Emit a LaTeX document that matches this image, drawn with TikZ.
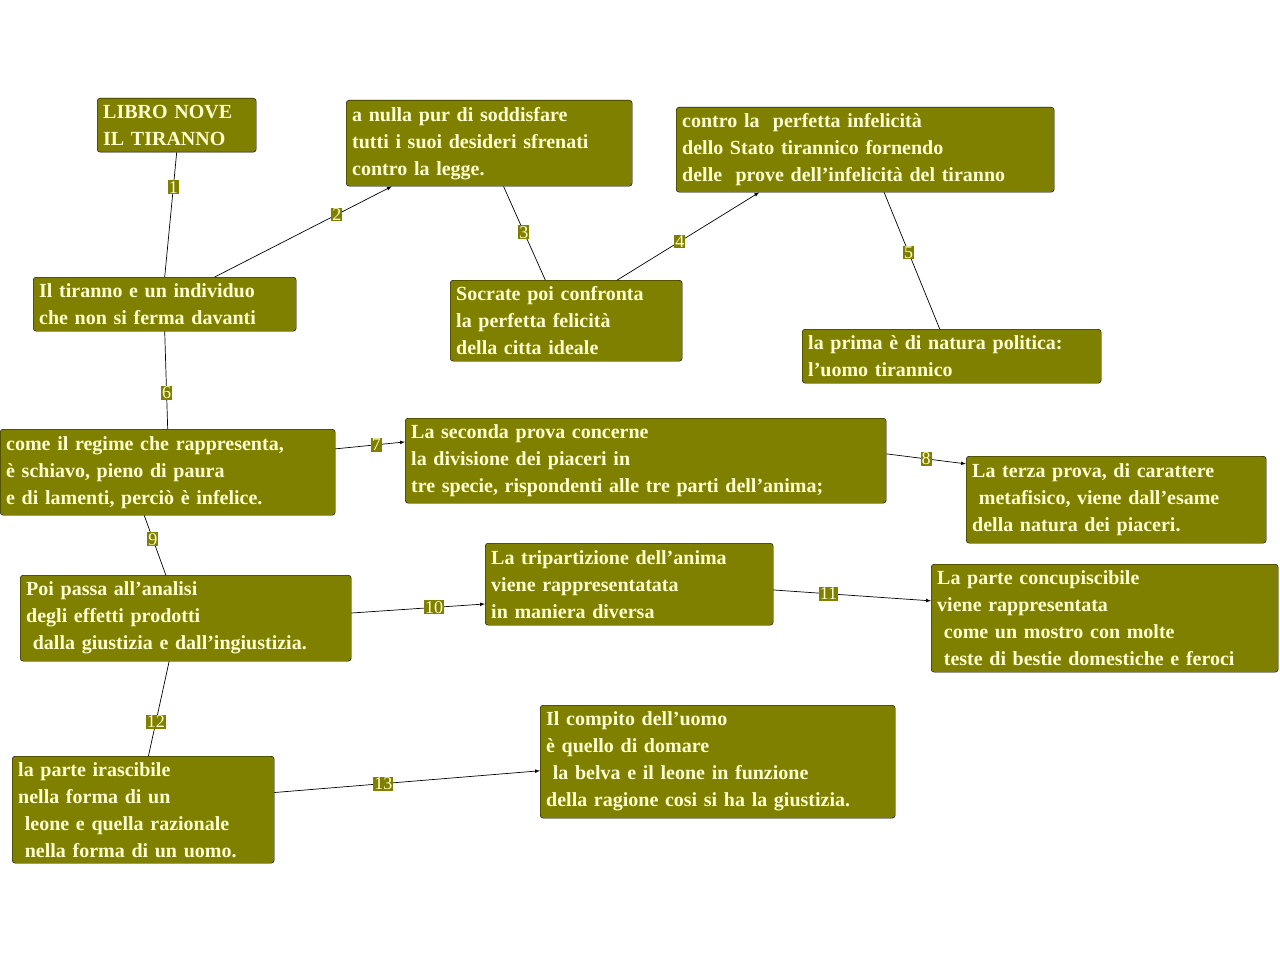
\documentclass[tikz,border=0pt]{standalone}
\usepackage{fontspec}
\setmainfont{Liberation Serif}
\usetikzlibrary{calc}
\definecolor{olv}{HTML}{808000}
\definecolor{txt}{HTML}{FFFFD0}
\begin{document}
\begin{tikzpicture}[x=1pt,y=-1pt,
 box/.style={draw=black,fill=olv,rounded corners=3pt,anchor=north west,align=left,text=txt,font=\fontsize{20}{27}\selectfont\bfseries,inner xsep=6pt,inner ysep=2pt},
 lab/.style={fill=olv,text=txt,font=\fontsize{18}{18}\selectfont,inner sep=1pt},
 ln/.style={draw=black,line width=0.7pt},
 arr/.style={ln,-latex}]
\useasboundingbox (0,0) rectangle (1280,963);
\newcommand{\bx}[6]{\node[box,text width=#4-#2-12pt,minimum height=#5-#3,minimum width=#4-#2] (#1) at (#2,#3) {#6};}
\bx{libro}{97}{98}{256}{152}{LIBRO NOVE\\IL TIRANNO}
\bx{anulla}{346}{100}{632}{186}{a nulla pur di soddisfare\\tutti i suoi desideri sfrenati\\contro la legge.}
\bx{contro}{676}{107}{1054}{192}{contro la\ \ perfetta infelicità\\dello Stato tirannico fornendo\\delle\ \ prove dell'infelicità del tiranno}
\bx{tiranno}{33}{277}{296}{331}{Il tiranno e un individuo\\che non si ferma davanti}
\bx{socrate}{450}{280}{682}{361}{Socrate poi confronta\\la perfetta felicità\\della citta ideale}
\bx{prima}{802}{329}{1101}{383}{la prima è di natura politica:\\l'uomo tirannico}
\bx{come}{0}{429}{335}{515}{come il regime che rappresenta,\\è schiavo, pieno di paura\\e di lamenti, perciò è infelice.}
\bx{seconda}{405}{418}{886}{503}{La seconda prova concerne\\la divisione dei piaceri in\\tre specie, rispondenti alle tre parti dell'anima;}
\bx{terza}{966}{456}{1266}{543}{La terza prova, di carattere\\\ metafisico, viene dall'esame\\della natura dei piaceri.}
\bx{poi}{20}{575}{351}{661}{Poi passa all'analisi\\degli effetti prodotti\\\ dalla giustizia e dall'ingiustizia.}
\bx{tri}{485}{543}{773}{625}{La tripartizione dell'anima\\viene rappresentatata\\in maniera diversa}
\bx{conc}{931}{564}{1278}{672}{La parte concupiscibile\\viene rappresentata\\\ come un mostro con molte\\\ teste di bestie domestiche e feroci}
\bx{iras}{12}{756}{274}{863}{la parte irascibile\\nella forma di un\\\ leone e quella razionale\\\ nella forma di un uomo.}
\bx{compito}{540}{705}{895}{818}{Il compito dell’uomo\\è quello di domare\\\ la belva e il leone in funzione\\della ragione cosi si ha la giustizia.}
\draw[ln] (tiranno.north) -- node[lab,pos=0.72]{1} (libro.south);
\draw[arr] ($(tiranno.north west)!0.69!(tiranno.north east)$) -- node[lab,pos=0.69]{2} ($(anulla.south west)!0.16!(anulla.south east)$);
\draw[ln] ($(anulla.south west)!0.55!(anulla.south east)$) -- node[lab,pos=0.49]{3} ($(socrate.north west)!0.41!(socrate.north east)$);
\draw[arr] ($(socrate.north west)!0.72!(socrate.north east)$) -- node[lab,pos=0.44]{4} ($(contro.south west)!0.22!(contro.south east)$);
\draw[ln] ($(contro.south west)!0.55!(contro.south east)$) -- node[lab,pos=0.44]{5} ($(prima.north west)!0.46!(prima.north east)$);
\draw[ln] (tiranno.south) -- node[lab,pos=0.63]{6} (come.north);
\draw[arr] ($(come.north east)!0.23!(come.south east)$) -- node[lab,pos=0.59]{7} ($(seconda.north west)!0.28!(seconda.south west)$);
\draw[arr] ($(seconda.north east)!0.42!(seconda.south east)$) -- node[lab,pos=0.5]{8} ($(terza.north west)!0.09!(terza.south west)$);
\draw[ln] ($(come.south west)!0.43!(come.south east)$) -- node[lab,pos=0.4]{9} ($(poi.north west)!0.44!(poi.north east)$);
\draw[arr] ($(poi.north east)!0.44!(poi.south east)$) -- node[lab,pos=0.62]{10} ($(tri.north west)!0.74!(tri.south west)$);
\draw[arr] ($(tri.north east)!0.57!(tri.south east)$) -- node[lab,pos=0.35]{11} ($(conc.north west)!0.34!(conc.south west)$);
\draw[ln] ($(poi.south west)!0.45!(poi.south east)$) -- node[lab,pos=0.64]{12} ($(iras.north west)!0.52!(iras.north east)$);
\draw[arr] ($(iras.north east)!0.34!(iras.south east)$) -- node[lab,pos=0.41]{13} ($(compito.north west)!0.58!(compito.south west)$);
\end{tikzpicture}
\end{document}
